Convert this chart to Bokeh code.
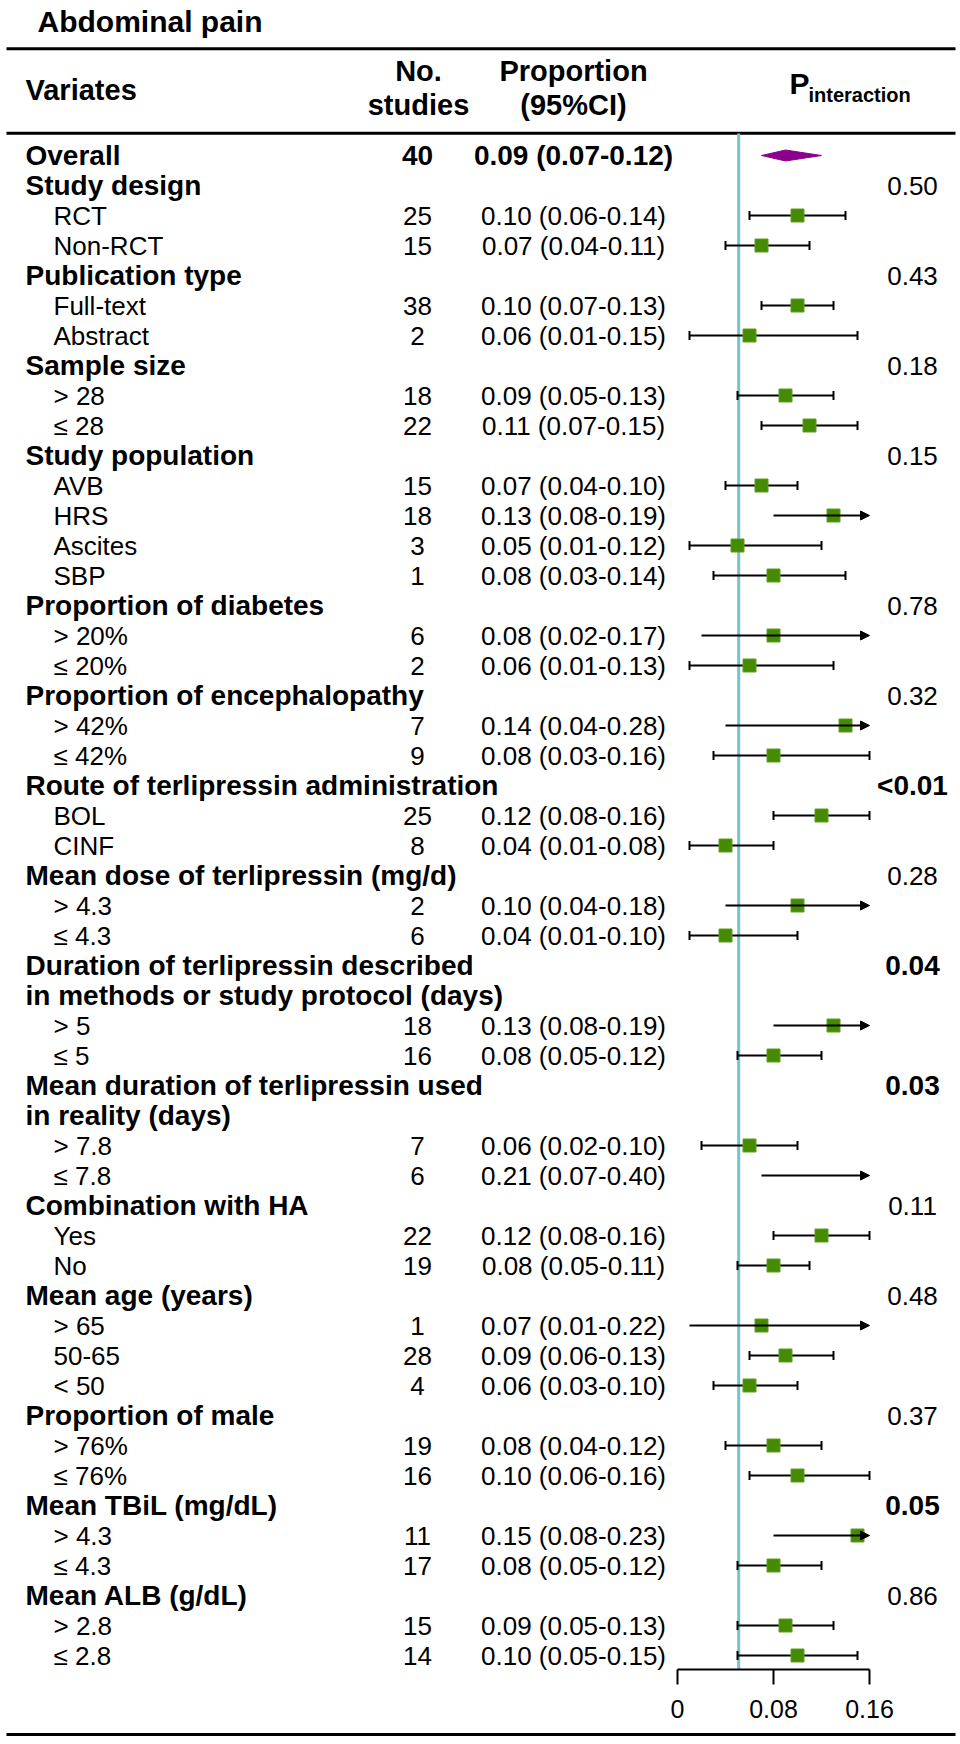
from bokeh.plotting import figure
from bokeh.models import (ColumnDataSource, Range1d, LinearAxis, FixedTicker,
                          NumeralTickFormatter, Arrow, NormalHead)
from bokeh.core.properties import value
from bokeh.embed import file_html
from bokeh.resources import INLINE

# ---------------- data ----------------
title_text = "Abdominal pain"

labels = ["Overall", "Study design", "RCT", "Non-RCT", "Publication type", "Full-text", "Abstract",
          "Sample size", "> 28", "\u2264 28", "Study population", "AVB", "HRS", "Ascites", "SBP",
          "Proportion of diabetes", "> 20%", "\u2264 20%", "Proportion of encephalopathy", "> 42%", "\u2264 42%",
          "Route of terlipressin administration", "BOL", "CINF", "Mean dose of terlipressin (mg/d)",
          "> 4.3", "\u2264 4.3", "Duration of terlipressin described", "in methods or study protocol (days)",
          "> 5", "\u2264 5", "Mean duration of terlipressin used", "in reality (days)", "> 7.8", "\u2264 7.8",
          "Combination with HA", "Yes", "No", "Mean age (years)", "> 65", "50-65", "< 50",
          "Proportion of male", "> 76%", "\u2264 76%", "Mean TBiL (mg/dL)", "> 4.3", "\u2264 4.3",
          "Mean ALB (g/dL)", "> 2.8", "\u2264 2.8"]

kinds = ["overall", "head", "sub", "sub", "head", "sub", "sub", "head", "sub", "sub", "head", "sub", "sub",
         "sub", "sub", "head", "sub", "sub", "head", "sub", "sub", "head", "sub", "sub", "head", "sub", "sub",
         "head", "head", "sub", "sub", "head", "head", "sub", "sub", "head", "sub", "sub", "head", "sub", "sub",
         "sub", "head", "sub", "sub", "head", "sub", "sub", "head", "sub", "sub"]

n_studies = [40, None, 25, 15, None, 38, 2, None, 18, 22, None, 15, 18, 3, 1, None, 6, 2, None, 7, 9,
             None, 25, 8, None, 2, 6, None, None, 18, 16, None, None, 7, 6, None, 22, 19, None, 1, 28, 4,
             None, 19, 16, None, 11, 17, None, 15, 14]

est = [0.09, None, 0.10, 0.07, None, 0.10, 0.06, None, 0.09, 0.11, None, 0.07, 0.13, 0.05, 0.08, None,
       0.08, 0.06, None, 0.14, 0.08, None, 0.12, 0.04, None, 0.10, 0.04, None, None, 0.13, 0.08, None,
       None, 0.06, 0.21, None, 0.12, 0.08, None, 0.07, 0.09, 0.06, None, 0.08, 0.10, None, 0.15, 0.08,
       None, 0.09, 0.10]

ci_low = [0.07, None, 0.06, 0.04, None, 0.07, 0.01, None, 0.05, 0.07, None, 0.04, 0.08, 0.01, 0.03, None,
          0.02, 0.01, None, 0.04, 0.03, None, 0.08, 0.01, None, 0.04, 0.01, None, None, 0.08, 0.05, None,
          None, 0.02, 0.07, None, 0.08, 0.05, None, 0.01, 0.06, 0.03, None, 0.04, 0.06, None, 0.08, 0.05,
          None, 0.05, 0.05]

ci_high = [0.12, None, 0.14, 0.11, None, 0.13, 0.15, None, 0.13, 0.15, None, 0.10, 0.19, 0.12, 0.14, None,
           0.17, 0.13, None, 0.28, 0.16, None, 0.16, 0.08, None, 0.18, 0.10, None, None, 0.19, 0.12, None,
           None, 0.10, 0.40, None, 0.16, 0.11, None, 0.22, 0.13, 0.10, None, 0.12, 0.16, None, 0.23, 0.12,
           None, 0.13, 0.15]

p_interaction = ["", "0.50", "", "", "0.43", "", "", "0.18", "", "", "0.15", "", "", "", "", "0.78", "", "",
                 "0.32", "", "", "<0.01", "", "", "0.28", "", "", "0.04", "", "", "", "0.03", "", "", "",
                 "0.11", "", "", "0.48", "", "", "", "0.37", "", "", "0.05", "", "", "0.86", "", ""]
p_significant = ["<0.01", "0.04", "0.03", "0.05"]

x_ticks = [0, 0.08, 0.16]
x_max = 0.16
ref_line = 0.051

# ---------------- layout helpers (pixel -> data) ----------------
W, H, OFF = 956, 1740, 0
X0_PX, PPU = 677.0, 1200.0   # page x of value 0, pixels per unit
Y0_PX, ROW = 155.0, 30.0     # page y of row 0, pixels per row


def dx(px):
    return (px - X0_PX) / PPU


def dy(py):
    return (py - Y0_PX) / ROW


FONT = "Liberation Sans"

p = figure(width=W, height=H, output_backend="svg", toolbar_location=None,
           x_range=Range1d(dx(OFF), dx(OFF + W)), y_range=Range1d(dy(OFF + H), dy(OFF)),
           x_axis_type=None, y_axis_type=None, min_border=0, outline_line_color=None,
           background_fill_color="white", border_fill_color="white")


def add_text(xs, ys, texts, size, bold=False, align="left"):
    """ys are the vertical centres of the capital letters (row units)."""
    if not texts:
        return
    src = ColumnDataSource(dict(x=xs, y=ys, t=texts))
    p.text(x="x", y="y", text="t", source=src, text_font=value(FONT),
           text_font_size=value(f"{size}px"), text_font_style="bold" if bold else "normal",
           text_align=align, text_baseline="middle", text_color="black")


# title and header
add_text([dx(37)], [dy(21)], [title_text], 30, bold=True)
add_text([dx(25)], [dy(89)], ["Variates"], 29, bold=True)
add_text([dx(418), dx(418)], [dy(70), dy(104.5)], ["No.", "studies"], 29, bold=True, align="center")
add_text([dx(573), dx(573)], [dy(70), dy(104.5)], ["Proportion", "(95%CI)"], 29, bold=True, align="center")
add_text([dx(789)], [dy(82.5)], ["P"], 30, bold=True)
add_text([dx(808)], [dy(94.5)], ["interaction"], 20, bold=True)

# row labels
hb_x, hb_y, hb_t = [], [], []
sb_x, sb_y, sb_t = [], [], []
for i, lab in enumerate(labels):
    if kinds[i] == "sub":
        sb_x.append(dx(53)); sb_y.append(i); sb_t.append(lab)
    else:
        hb_x.append(dx(25)); hb_y.append(i); hb_t.append(lab)
add_text(hb_x, hb_y, hb_t, 28, bold=True)
add_text(sb_x, sb_y, sb_t, 26)

# counts and proportions
cb = ([], [], [])
cn = ([], [], [])
pb = ([], [], [])
pn = ([], [], [])
for i in range(len(labels)):
    if n_studies[i] is None:
        continue
    txt = f"{est[i]:.2f} ({ci_low[i]:.2f}-{ci_high[i]:.2f})"
    if kinds[i] == "overall":
        cb[0].append(dx(417)); cb[1].append(i); cb[2].append(str(n_studies[i]))
        pb[0].append(dx(573)); pb[1].append(i); pb[2].append(txt)
    else:
        cn[0].append(dx(417)); cn[1].append(i); cn[2].append(str(n_studies[i]))
        pn[0].append(dx(573)); pn[1].append(i); pn[2].append(txt)
add_text(*cb, 28, bold=True, align="center")
add_text(*pb, 28, bold=True, align="center")
add_text(*cn, 26, align="center")
add_text(*pn, 26, align="center")

# p interaction
pvb = ([], [], [])
pvn = ([], [], [])
for i, pv in enumerate(p_interaction):
    if not pv:
        continue
    if pv in p_significant:
        pvb[0].append(dx(912)); pvb[1].append(i); pvb[2].append(pv)
    else:
        pvn[0].append(dx(912)); pvn[1].append(i); pvn[2].append(pv)
add_text(*pvb, 28, bold=True, align="center")
add_text(*pvn, 26, align="center")

# horizontal rules
rule_y = [dy(48.3), dy(132.7), dy(1734)]
p.segment(x0=[dx(6)] * 3, y0=rule_y, x1=[dx(955)] * 3, y1=rule_y, line_color="black", line_width=3)

# reference line
p.segment(x0=[ref_line], y0=[dy(133)], x1=[ref_line], y1=[dy(1669)], line_color="#74C3CF", line_width=3)

# whiskers
seg = dict(x0=[], x1=[], y=[])
caps = dict(x=[], y0=[], y1=[])
arr = dict(x0=[], x1=[], y=[])
sq = dict(x=[], y=[])
for i in range(1, len(labels)):
    if est[i] is None:
        continue
    if ci_high[i] > x_max:
        arr["x0"].append(ci_low[i]); arr["x1"].append(x_max); arr["y"].append(i)
    else:
        seg["x0"].append(ci_low[i]); seg["x1"].append(ci_high[i]); seg["y"].append(i)
        for xv in (ci_low[i], ci_high[i]):
            caps["x"].append(xv); caps["y0"].append(i - 0.15); caps["y1"].append(i + 0.15)
    if est[i] <= x_max:
        sq["x"].append(est[i]); sq["y"].append(i)

p.segment(x0="x0", y0="y", x1="x1", y1="y", source=ColumnDataSource(seg), line_color="black", line_width=2)
p.segment(x0="x", y0="y0", x1="x", y1="y1", source=ColumnDataSource(caps), line_color="black", line_width=2)
p.add_layout(Arrow(end=NormalHead(size=9, fill_color="black", line_color="black", line_width=1),
                   x_start="x0", y_start="y", x_end="x1", y_end="y",
                   source=ColumnDataSource(arr), line_color="black", line_width=2))
p.scatter(x="x", y="y", source=ColumnDataSource(sq), marker="square", size=13,
          fill_color="#458B00", line_color="#5E9E22", line_width=1)

# overall diamond
h = 5.5 / ROW
p.patch(x=[ci_low[0], est[0], ci_high[0], est[0]], y=[0, -h, 0, h],
        fill_color="#8B008B", line_color="#8B008B", line_width=1)

# x axis
ax = LinearAxis(fixed_location=dy(1669), bounds=(0, x_max), ticker=FixedTicker(ticks=x_ticks),
                formatter=NumeralTickFormatter(format="0.[00]"),
                axis_line_width=2, axis_line_color="black",
                major_tick_line_width=2, major_tick_line_color="black",
                major_tick_out=15, major_tick_in=0, minor_tick_out=0, minor_tick_in=0,
                major_label_text_font=FONT, major_label_text_font_size="25px",
                major_label_text_color="black", major_label_standoff=15)
p.add_layout(ax, "below")

open("out.html", "w").write(file_html(p, INLINE))
